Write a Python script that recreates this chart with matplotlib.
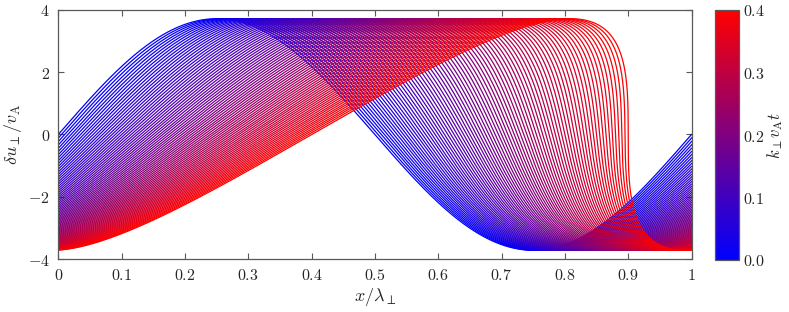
import numpy as np
import matplotlib
matplotlib.use('Agg')
import matplotlib.pyplot as plt
from matplotlib.colors import LinearSegmentedColormap, Normalize
from matplotlib.cm import ScalarMappable

plt.rcParams['mathtext.fontset'] = 'cm'
plt.rcParams['font.family'] = 'serif'
plt.rcParams['font.serif'] = ['DejaVu Serif']

#-------------------------------------------------------------------------------
# values

amp     = 3.72                       # peak du/vA of the initial sine
t_break = 0.4                        # k vA t where the front turns vertical
t_vals  = np.linspace(0.0, 0.4, 81)  # one curve per time step of 0.005

xticks       = [0, 0.1, 0.2, 0.3, 0.4, 0.5, 0.6, 0.7, 0.8, 0.9, 1]
xtick_labels = ['0', '0.1', '0.2', '0.3', '0.4', '0.5', '0.6', '0.7', '0.8', '0.9', '1']
yticks       = [-4, -2, 0, 2, 4]
ytick_labels = ['-4', '-2', '0', '2', '4']
cb_ticks     = [0.0, 0.1, 0.2, 0.3, 0.4]
cb_labels    = ['0.0', '0.1', '0.2', '0.3', '0.4']

#-------------------------------------------------------------------------------

cmap = LinearSegmentedColormap.from_list('bluered', ['#0000ff', '#ff0000'])
norm = Normalize(vmin=0.0, vmax=0.4)

fig01 = plt.figure(figsize=(7.89, 3.12), dpi=100)
axs01 = fig01.add_axes([58.3/789, 53/312, 633.2/789, 249/312])

# initial sine, carried along characteristics (simple-wave steepening)
xi = np.linspace(-1.0, 1.0, 4001)
u0 = amp*np.sin(2*np.pi*xi)
for tt in t_vals:
  xx = xi + tt + tt/(2*np.pi*t_break)*np.sin(2*np.pi*xi)
  axs01.plot(xx, u0, c=cmap(norm(tt)), lw=0.9)

axs01.set_xlim(0, 1)
axs01.set_ylim(-4, 4)
axs01.set_xticks(xticks)
axs01.set_xticklabels(['$'+s+'$' for s in xtick_labels])
axs01.set_yticks(yticks)
axs01.set_yticklabels(['$'+s+'$' for s in ytick_labels])
axs01.tick_params(direction='in', top=True, right=True, length=4, width=0.8,
                  color='0.35', labelsize=11.5, labelcolor='0.15', pad=6)
for sp in axs01.spines.values():
  sp.set_color('0.35')
  sp.set_linewidth(0.9)

axs01.set_xlabel(r'$x/\lambda_\perp$', fontsize=13, color='0.15', labelpad=1)
axs01.set_ylabel(r'$\delta u_\perp/v_{\rm A}$', fontsize=13, color='0.15', labelpad=3)

# colorbar
cax01 = fig01.add_axes([715/789, 52/312, 24/789, 250/312])
sm = ScalarMappable(norm=norm, cmap=cmap)
cb01 = fig01.colorbar(sm, cax=cax01, ticks=cb_ticks)
cb01.ax.set_yticklabels(['$'+s+'$' for s in cb_labels])
cb01.ax.tick_params(direction='in', length=0, labelsize=11.5, labelcolor='0.15', pad=3)
cb01.outline.set_edgecolor('0.35')
cb01.outline.set_linewidth(0.9)
cb01.set_label(r'$k_\perp v_{\rm A} t$', fontsize=12, color='0.15', labelpad=0)

plt.savefig('out.png', dpi=100)
plt.close()
